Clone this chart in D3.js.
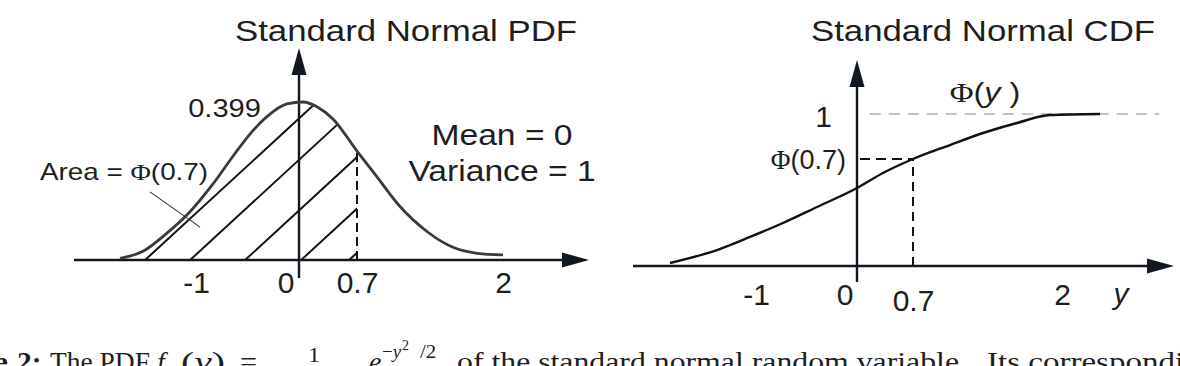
<!DOCTYPE html>
<html><head><meta charset="utf-8">
<script src="https://cdn.jsdelivr.net/npm/d3@7"></script>
<style>html,body{margin:0;padding:0;background:#fff;overflow:hidden} svg{display:block}</style>
</head><body><svg id="c" width="1180" height="366"></svg>
<script>
// ---------------- data ----------------
const tickValues = [-1, 0, 0.7, 2];
const tickLabels = ["-1", "0", "0.7", "2"];
const pdfX = [-1.738,-1.515,-1.282,-1.058,-0.835,-0.641,-0.476,-0.311,-0.117,0.048,0.217,0.410,0.700,0.878,1.083,1.323,1.555,1.769,2.000];
const pdfY = [0.004,0.022,0.068,0.122,0.192,0.262,0.318,0.362,0.394,0.399,0.387,0.356,0.275,0.210,0.135,0.072,0.032,0.017,0.013];
const cdfX = [-1.851,-1.386,-1.059,-0.733,-0.396,0,0.325,0.700,1.023,1.311,1.608,1.895,2.332];
const cdfY = [0.020,0.105,0.191,0.283,0.388,0.513,0.612,0.704,0.796,0.875,0.941,0.993,1.0];
const hatchStarts = [-1.515,-1.078,-0.544,0,0.579];
const cutX = 0.7;
const pdfAtCut = 0.275;
const cdfAtCut = 0.704;
const peakValue = 0.399;
const peakLabel = "0.399";
const refLineX = [0.16, 2.85];
const areaLeader = [[-1.447,0.172],[-0.961,0.083]];

// ---------------- setup ----------------
const svg = d3.select("#c");
const INK = "#111820", TXT = "#1e1e1e";
const SANS = "'Liberation Sans', Arial, sans-serif";
const SERIF = "'Liberation Serif', 'Times New Roman', serif";

function label(x, y, parts, o) {
  const t = svg.append("text")
    .attr("transform", `translate(${x},${y}) scale(${o.stretch || 1},1)`)
    .attr("font-family", o.family || SANS).attr("font-size", o.size)
    .attr("text-anchor", o.anchor || "start").attr("fill", o.fill || TXT)
    .attr("font-weight", o.weight || "normal");
  if (o.len) t.attr("textLength", o.len).attr("lengthAdjust", "spacingAndGlyphs");
  parts.forEach(p => {
    const s = t.append("tspan").text(p.t);
    if (p.family) s.attr("font-family", p.family);
    if (p.style) s.attr("font-style", p.style);
    if (p.size) s.attr("font-size", p.size);
    if (p.dy) s.attr("dy", p.dy);
    if (p.weight) s.attr("font-weight", p.weight);
  });
  return t;
}
function arrowHead(tipX, tipY, dir) {
  const L = 27, H = 7.5;
  const pts = dir === "right"
    ? [[tipX, tipY], [tipX - L, tipY - H], [tipX - L, tipY + H]]
    : [[tipX, tipY], [tipX - H, tipY + L], [tipX + H, tipY + L]];
  svg.append("path").attr("d", d3.line()(pts) + "Z").attr("fill", INK);
}

// ---------------- left panel: PDF ----------------
const xL = d3.scaleLinear().domain([-1, 0, 0.7, 2]).range([196, 299, 357, 503]);
const yL = d3.scaleLinear().domain([0, peakValue]).range([260, 102]);
const pdf = pdfX.map((x, i) => [x, pdfY[i]]);
const curve = d3.curveMonotoneX;

const defs = svg.append("defs");
const under = pdf.filter(d => d[0] <= cutX);
defs.append("clipPath").attr("id", "hatchClip").append("path")
  .attr("d", d3.area().x(d => xL(d[0])).y0(yL(0)).y1(d => yL(d[1])).curve(curve)(under));
const gH = svg.append("g").attr("clip-path", "url(#hatchClip)");
hatchStarts.forEach(s => {
  const x0 = xL(s), y0 = yL(0);
  gH.append("line").attr("x1", x0).attr("y1", y0 + 2).attr("x2", x0 + 300).attr("y2", y0 + 2 - 0.92 * 300)
    .attr("stroke", "#111").attr("stroke-width", 2);
});

svg.append("line").attr("x1", 74).attr("x2", 566).attr("y1", yL(0)).attr("y2", yL(0))
  .attr("stroke", INK).attr("stroke-width", 2.6);
arrowHead(589, yL(0), "right");
svg.append("line").attr("x1", xL(0)).attr("x2", xL(0)).attr("y1", yL(0) + 18).attr("y2", 70)
  .attr("stroke", INK).attr("stroke-width", 2.4);
arrowHead(xL(0), 48, "up");

svg.append("line").attr("x1", xL(cutX)).attr("x2", xL(cutX)).attr("y1", yL(0)).attr("y2", yL(pdfAtCut))
  .attr("stroke", "#111").attr("stroke-width", 2).attr("stroke-dasharray", "9,5");

svg.append("path").attr("d", d3.line().x(d => xL(d[0])).y(d => yL(d[1])).curve(curve)(pdf))
  .attr("fill", "none").attr("stroke", "#3a3a3a").attr("stroke-width", 2.8);

svg.append("line").attr("x1", xL(areaLeader[0][0])).attr("y1", yL(areaLeader[0][1]))
  .attr("x2", xL(areaLeader[1][0])).attr("y2", yL(areaLeader[1][1]))
  .attr("stroke", "#333").attr("stroke-width", 1.1);

const axL = d3.axisBottom(xL).tickValues(tickValues).tickFormat((d, i) => tickLabels[i]).tickSize(0).tickPadding(0);
const gAxL = svg.append("g").attr("transform", `translate(0,${yL(0)})`).call(axL);
gAxL.select(".domain").remove();
gAxL.attr("font-family", SANS).attr("font-size", 30);
gAxL.selectAll("text").attr("y", 33).attr("dy", 0).attr("fill", TXT);
gAxL.selectAll("text").filter(d => d === 0).attr("text-anchor", "end").attr("x", -5);

label(406, 41, [{t: "Standard Normal PDF"}], {size: 30, anchor: "middle", stretch: 1.16});
label(261, yL(peakValue) + 15, [{t: peakLabel}], {size: 26, anchor: "end", stretch: 1.12});
label(502, 145, [{t: "Mean = 0"}], {size: 29, anchor: "middle", stretch: 1.16});
label(502, 181, [{t: "Variance = 1"}], {size: 29, anchor: "middle", stretch: 1.16});
label(40, 180, [{t: "Area = "}, {t: "Φ", family: SERIF}, {t: "(0.7)"}], {size: 24, stretch: 1.16});

// ---------------- right panel: CDF ----------------
const xR = d3.scaleLinear().domain([-1, 0, 0.7, 2]).range([756, 857, 913, 1062]);
const yR = d3.scaleLinear().domain([0, 1]).range([266, 114]);
const cdf = cdfX.map((x, i) => [x, cdfY[i]]);

svg.append("line").attr("x1", xR(refLineX[0])).attr("x2", xR(refLineX[1])).attr("y1", yR(1)).attr("y2", yR(1))
  .attr("stroke", "#b0b0b0").attr("stroke-width", 1.6).attr("stroke-dasharray", "11,8");

svg.append("line").attr("x1", 633).attr("x2", 1150).attr("y1", yR(0)).attr("y2", yR(0))
  .attr("stroke", INK).attr("stroke-width", 2.6);
arrowHead(1174, yR(0), "right");
svg.append("line").attr("x1", xR(0)).attr("x2", xR(0)).attr("y1", yR(0) + 16).attr("y2", 82)
  .attr("stroke", INK).attr("stroke-width", 2.4);
arrowHead(xR(0), 60, "up");

svg.append("line").attr("x1", xR(cutX)).attr("x2", xR(cutX)).attr("y1", yR(0)).attr("y2", yR(cdfAtCut))
  .attr("stroke", "#111").attr("stroke-width", 2).attr("stroke-dasharray", "9,6");
svg.append("line").attr("x1", xR(0) + 3).attr("x2", xR(cutX)).attr("y1", yR(cdfAtCut)).attr("y2", yR(cdfAtCut))
  .attr("stroke", "#111").attr("stroke-width", 2).attr("stroke-dasharray", "10,6");

svg.append("path").attr("d", d3.line().x(d => xR(d[0])).y(d => yR(d[1])).curve(curve)(cdf))
  .attr("fill", "none").attr("stroke", "#111").attr("stroke-width", 2.4);

const axR = d3.axisBottom(xR).tickValues(tickValues).tickFormat((d, i) => tickLabels[i]).tickSize(0).tickPadding(0);
const gAxR = svg.append("g").attr("transform", `translate(0,${yR(0)})`).call(axR);
gAxR.select(".domain").remove();
gAxR.attr("font-family", SANS).attr("font-size", 30);
gAxR.selectAll("text").attr("y", 39).attr("dy", 0).attr("fill", TXT);
gAxR.selectAll("text").filter(d => d === 0).attr("text-anchor", "end").attr("x", -4);
gAxR.selectAll("text").filter(d => d === cutX).attr("y", 45);
label(1121, yR(0) + 38, [{t: "y", style: "italic"}], {size: 30, anchor: "middle"});

label(983, 41, [{t: "Standard Normal CDF"}], {size: 30, anchor: "middle", stretch: 1.16});
label(985, 102, [{t: "Φ", family: SERIF}, {t: "("}, {t: "y", style: "italic"}, {t: " )"}], {size: 28, anchor: "middle", stretch: 1.16});
label(832, yR(1) + 13, [{t: "1"}], {size: 30, anchor: "end"});
label(846, yR(cdfAtCut) + 10, [{t: "Φ", family: SERIF}, {t: "(0.7)"}], {size: 27, anchor: "end"});

// ---------------- caption (cut off at bottom) ----------------
const CY = 371, CS = 28;
label(8, CY, [{t: "Figure"}], {size: CS, family: SERIF, anchor: "end", weight: "bold", stretch: 1.12});
label(17, CY, [{t: "2:"}], {size: CS, family: SERIF, weight: "bold", stretch: 1.05});
label(50, CY, [{t: "The PDF"}], {size: CS, family: SERIF, len: 100});
label(157, CY, [{t: "f", style: "italic"}], {size: CS, family: SERIF});
label(167, CY + 6, [{t: "y", style: "italic"}], {size: 18, family: SERIF});
label(181, CY, [{t: "("}, {t: "y", style: "italic"}, {t: ")"}], {size: CS, family: SERIF, len: 44});
label(240, CY, [{t: "="}], {size: CS, family: SERIF, len: 17});
label(314, 362, [{t: "1"}], {size: 22, family: SERIF, anchor: "middle", stretch: 1.1});
label(369, CY, [{t: "e", style: "italic"}], {size: CS, family: SERIF});
label(382, 358, [{t: "−"}, {t: "y", style: "italic"}], {size: 19, family: SERIF});
label(402, 350, [{t: "2"}], {size: 14, family: SERIF});
label(420, 358, [{t: "/2"}], {size: 19, family: SERIF, stretch: 1.1});
label(457, CY, [{t: "of the standard normal random variable."}], {size: CS, family: SERIF, len: 510});
label(987, CY, [{t: "Its corresponding"}], {size: CS, family: SERIF, stretch: 1.18});
</script></body></html>
